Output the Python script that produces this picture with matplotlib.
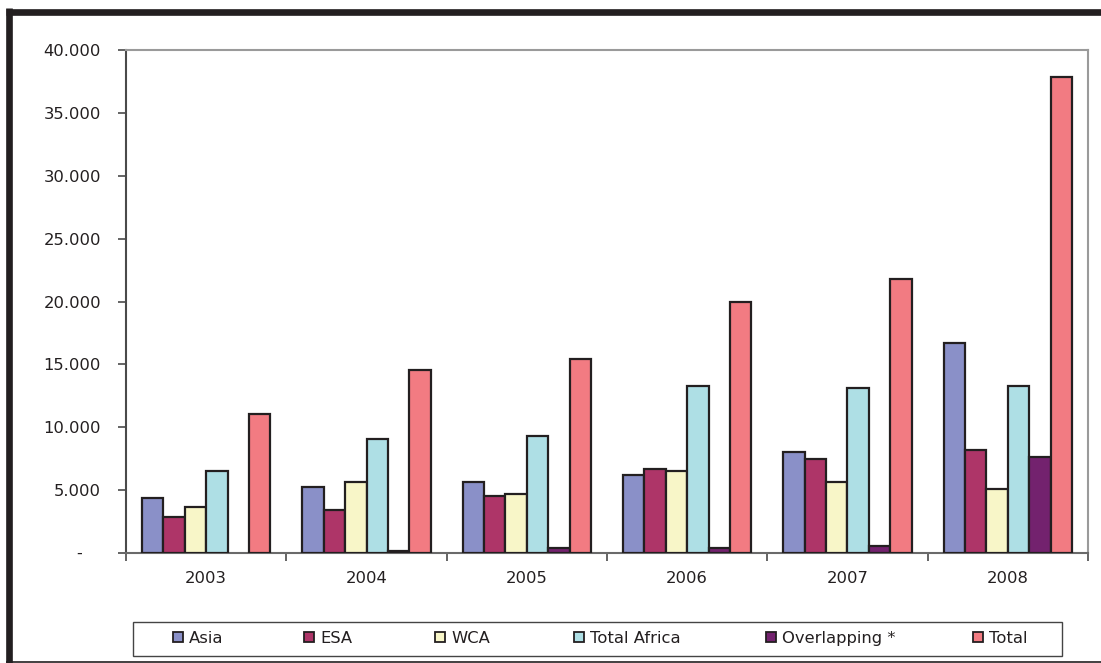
import numpy as np
import matplotlib
matplotlib.use("Agg")
import matplotlib.pyplot as plt
from matplotlib.lines import Line2D
from matplotlib.patches import Rectangle
from matplotlib.ticker import FixedLocator, FuncFormatter, NullFormatter
import matplotlib.transforms as mtransforms

# ---- data -------------------------------------------------------------
years = ["2003", "2004", "2005", "2006", "2007", "2008"]
series_names = ["Asia", "ESA", "WCA", "Total Africa", "Overlapping *", "Total"]
asia = [4340, 5250, 5650, 6170, 8000, 16720]
esa = [2890, 3440, 4530, 6700, 7440, 8190]
wca = [3630, 5620, 4720, 6550, 5650, 5090]
total_africa = [6550, 9090, 9270, 13280, 13120, 13280]
overlapping = [0, 180, 370, 370, 560, 7630]
total = [11080, 14580, 15450, 20000, 21810, 37850]
y_ticks = [0, 5000, 10000, 15000, 20000, 25000, 30000, 35000, 40000]

series_values = [asia, esa, wca, total_africa, overlapping, total]
colors = ["#8a90c8", "#ae3568", "#f8f6c8", "#aedfe5", "#73226e", "#f27b82"]

DARK = "#231f20"
FONT = "DejaVu Sans"
FS = 11.8
plt.rcParams["font.family"] = [FONT]

fig = plt.figure(figsize=(11.01, 6.63), dpi=100)
ax = fig.add_axes([126 / 1101, 110 / 663, 962 / 1101, 503 / 663])

# ---- bars -------------------------------------------------------------
n = len(series_values)
bar_w = 1.0 / (n + 1.5)
x = np.arange(len(years))
for i, (vals, col, name) in enumerate(zip(series_values, colors, series_names)):
    bars = ax.bar(x + (i - (n - 1) / 2) * bar_w, vals, width=bar_w,
                  color=col, edgecolor=DARK, linewidth=1.6, label=name,
                  zorder=3)
    for b, v in zip(bars, vals):
        if v == 0:
            b.set_visible(False)

ax.set_xlim(-0.5, len(years) - 0.5)
ax.set_ylim(0, 40000)

# ---- axes styling -----------------------------------------------------
for side in ("top", "right"):
    ax.spines[side].set_color("#9a9a9a")
    ax.spines[side].set_linewidth(1.5)
ax.spines["left"].set_color("#4a4a4a")
ax.spines["left"].set_linewidth(1.5)
ax.spines["bottom"].set_color("#6a6a6a")
ax.spines["bottom"].set_linewidth(1.5)

ax.yaxis.set_major_locator(FixedLocator(y_ticks))
ax.yaxis.set_major_formatter(FuncFormatter(
    lambda v, p: "" if v == 0 else f"{v:,.0f}".replace(",", ".")))
ax.tick_params(axis="y", direction="out", length=6, width=1.2,
               color="#4a4a4a", pad=12, labelsize=FS, labelcolor=DARK)
ax.text(-0.049, 0, "-", transform=mtransforms.blended_transform_factory(
    ax.transAxes, ax.transData), ha="center", va="center",
    fontsize=FS, color=DARK)

# group boundaries as major ticks, year labels on minor ticks at centres
ax.xaxis.set_major_locator(FixedLocator(np.arange(len(years) + 1) - 0.5))
ax.xaxis.set_major_formatter(NullFormatter())
ax.xaxis.set_minor_locator(FixedLocator(x))
ax.set_xticks(x, years, minor=True)
ax.tick_params(axis="x", which="major", direction="out", length=6,
               width=1.2, color="#4a4a4a")
ax.tick_params(axis="x", which="minor", length=0, pad=13,
               labelsize=FS, labelcolor=DARK)

# ---- legend -----------------------------------------------------------
H = 663.0
W = 1101.0
leg_box = Rectangle((133 / W, (H - 656) / H), 929 / W, 34 / H,
                    transform=fig.transFigure, facecolor="white",
                    edgecolor="#444444", linewidth=1.0)
fig.add_artist(leg_box)
marker_x = [173, 304, 435, 574, 766, 973]
leg_y = 637.0
for mx, col, name in zip(marker_x, colors, series_names):
    fig.add_artist(Rectangle((mx / W, (H - leg_y - 5) / H), 10 / W, 10 / H,
                             transform=fig.transFigure, facecolor=col,
                             edgecolor=DARK, linewidth=1.3))
    fig.text((mx + 16) / W, (H - leg_y - 6) / H, name, ha="left",
             va="baseline", fontsize=FS, color=DARK)

# ---- outer frame ------------------------------------------------------
fig.add_artist(Line2D([6 / W, 1.0], [(H - 11.7) / H] * 2,
                      transform=fig.transFigure, color=DARK, linewidth=4.8,
                      solid_capstyle="butt"))
fig.add_artist(Line2D([9.3 / W] * 2, [(H - 8.3) / H, 0.0],
                      transform=fig.transFigure, color=DARK, linewidth=4.8,
                      solid_capstyle="butt"))
fig.add_artist(Line2D([6 / W, 1.0], [(H - 661.5) / H] * 2,
                      transform=fig.transFigure, color=DARK, linewidth=1.2,
                      solid_capstyle="butt"))

fig.savefig("out.png", dpi=100)
